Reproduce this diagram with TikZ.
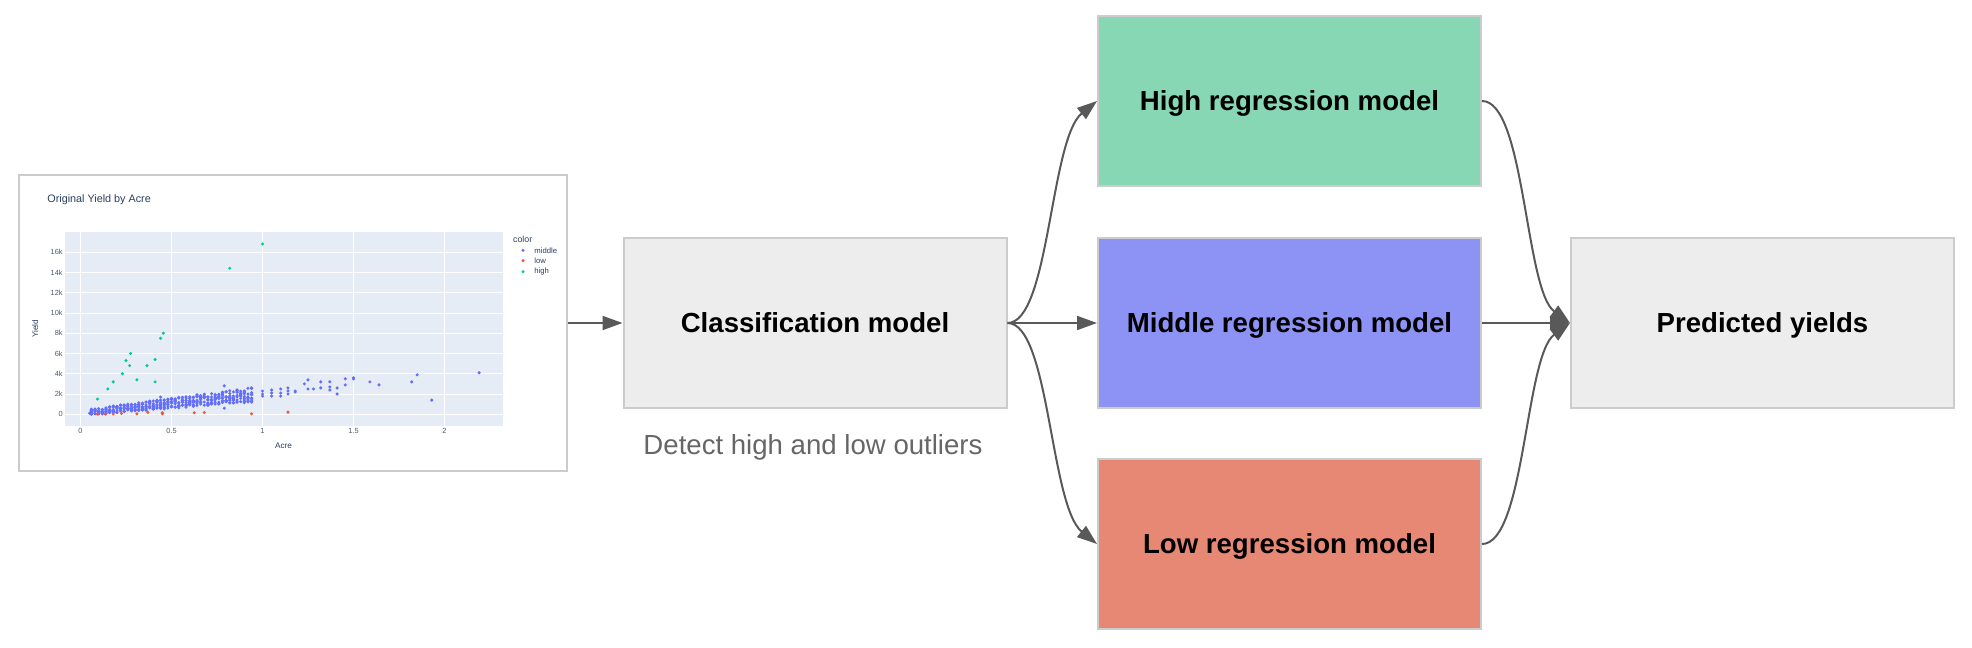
\documentclass[tikz,border=0pt]{standalone}
\usepackage{fontspec}
\setmainfont{Liberation Sans}
\usetikzlibrary{arrows.meta}
\definecolor{boxgray}{HTML}{EDEDED}
\definecolor{boxline}{HTML}{CCCCCC}
\definecolor{highfill}{HTML}{87D7B4}
\definecolor{midfill}{HTML}{8D92F5}
\definecolor{lowfill}{HTML}{E78874}
\definecolor{arrowgray}{HTML}{595959}
\definecolor{captiongray}{HTML}{666666}
\definecolor{plotbg}{HTML}{E5ECF6}
\definecolor{plottext}{HTML}{2A3F5F}
\definecolor{middot}{HTML}{636EFA}
\definecolor{lowdot}{HTML}{EF553B}
\definecolor{highdot}{HTML}{00CC96}
\begin{document}
\begin{tikzpicture}[
    x=0.5pt, y=-0.5pt,
    model/.style={draw=boxline, line width=1pt, minimum width=191.5pt, minimum height=85pt, inner sep=0pt, text height=9.9pt, text depth=0pt, font=\fontsize{13.8}{16}\selectfont\bfseries},
    flow/.style={draw=arrowgray, line width=1pt, -{Triangle[length=10pt,width=7pt]}},
    tick/.style={font=\fontsize{3.7}{4}\selectfont, text=plottext!85, inner sep=1pt},
    small/.style={font=\fontsize{4.1}{5}\selectfont, text=plottext, inner sep=0pt},
    grid line/.style={white, line width=0.3pt}
]
\useasboundingbox (0,0) rectangle (1972,648);

\node[draw=boxline, line width=1pt, fill=white, minimum width=274pt, minimum height=148pt] (chart) at (293,323) {};
\begin{scope}[shift={(80.5,414.3)}, x=91pt, y=5.07pt]
    \fill[plotbg] (-0.085,-1.15) rectangle (2.321,18);
    \foreach \a in {0,0.5,1,1.5,2} \draw[grid line] (\a,-1.15) -- (\a,18);
    \foreach \v in {2,4,...,16} \draw[grid line] (-0.085,\v) -- (2.321,\v);
    \draw[white, line width=0.8pt] (-0.085,0) -- (2.321,0);
    \node[tick, anchor=east] at (-0.085,0) {0};
    \foreach \v in {2,4,...,16} \node[tick, anchor=east] at (-0.085,\v) {\v k};
    \foreach \a in {0,0.5,1,1.5,2} \node[tick] at (\a,-1.65) {\a};
    \pgfmathsetseed{42}
    \foreach \a in {0.06,0.08,...,0.96} {
        \foreach \k in {1,...,10} {
            \pgfmathsetmacro\yv{(1.4*\a-0.12)+(1.0*\a+0.5)*rnd}
            \fill[middot] (\a,\yv) circle[radius=0.85pt];
        }
    }
    \foreach \p in {(0.05,0.1),(0.44,1.7),(0.79,2.8),(0.79,0.6),(1.0,2.3),(1.0,2.0),(1.0,1.8),(1.05,2.4),(1.05,2.1),(1.05,1.8),(1.1,2.5),(1.1,2.1),(1.1,1.8),(1.14,2.6),(1.14,2.3),(1.14,2.0),(1.18,2.3),(1.18,2.2),(1.23,3.0),(1.25,3.4),(1.25,2.5),(1.28,2.5),(1.32,3.2),(1.32,2.6),(1.37,3.2),(1.37,2.7),(1.37,2.4),(1.41,2.6),(1.41,2.0),(1.455,3.5),(1.455,2.9),(1.5,3.6),(1.5,3.5),(1.59,3.2),(1.64,2.9),(1.82,3.2),(1.85,3.9),(1.93,1.4),(2.19,4.1)}
        \fill[middot] \p circle[radius=0.85pt];
    \foreach \p in {(0.093,0.03),(0.137,0.03),(0.18,0.03),(0.225,0.08),(0.31,0.05),(0.37,0.2),(0.45,0.05),(0.45,0.15),(0.625,0.15),(0.68,0.18),(0.94,0.05),(1.14,0.22)}
        \fill[lowdot] \p circle[radius=0.85pt];
    \foreach \p in {(0.093,1.5),(0.15,2.5),(0.18,3.2),(0.23,4.0),(0.25,5.3),(0.275,6.0),(0.27,4.8),(0.31,3.4),(0.365,4.8),(0.41,5.4),(0.41,3.2),(0.44,7.5),(0.455,8.0),(0.82,14.4),(1.0,16.8)}
        \fill[highdot] \p circle[radius=0.85pt];
\end{scope}
\node[anchor=west, font=\fontsize{5.4}{6}\selectfont, text=plottext, inner sep=0pt] (title) at (47,200) {Original Yield by Acre};
\node[small] (xlabel) at (283.6,446) {Acre};
\node[small, rotate=90] (ylabel) at (35.2,329) {Yield};
\node[small, anchor=west, font=\fontsize{4.4}{5}\selectfont] (legend) at (512.8,239.3) {color};
\foreach \c/\t/\y in {middot/middle/250.3, lowdot/low/260.7, highdot/high/271.7} {
    \fill[\c] (523,\y) circle[radius=0.85pt];
    \node[small, anchor=west, font=\fontsize{3.85}{4}\selectfont] at (534,\y) {\t};
}

\node[model, fill=boxgray] (classif) at (815,323) {Classification model};
\node[font=\fontsize{13.8}{16}\selectfont, text=captiongray] (detect) at (813,447) {Detect high and low outliers};
\node[model, fill=highfill] (high) at (1289.5,101) {High regression model};
\node[model, fill=midfill] (middle) at (1289.5,323) {Middle regression model};
\node[model, fill=lowfill] (low) at (1289.5,544) {Low regression model};
\node[model, fill=boxgray] (pred) at (1762.5,323) {Predicted yields};

\draw[flow] (chart.east) -- (classif.west);
\draw[flow] (classif.east) -- (middle.west);
\draw[flow] (classif.east) .. controls +(42,0) and +(-47,38) .. (high.west);
\draw[flow] (classif.east) .. controls +(42,0) and +(-47,-38) .. (low.west);
\draw[flow] (middle.east) -- (pred.west);
\draw[flow] (high.east) .. controls +(43,0) and +(-45,-33) .. (pred.west);
\draw[flow] (low.east) .. controls +(43,0) and +(-45,33) .. (pred.west);
\end{tikzpicture}
\end{document}
